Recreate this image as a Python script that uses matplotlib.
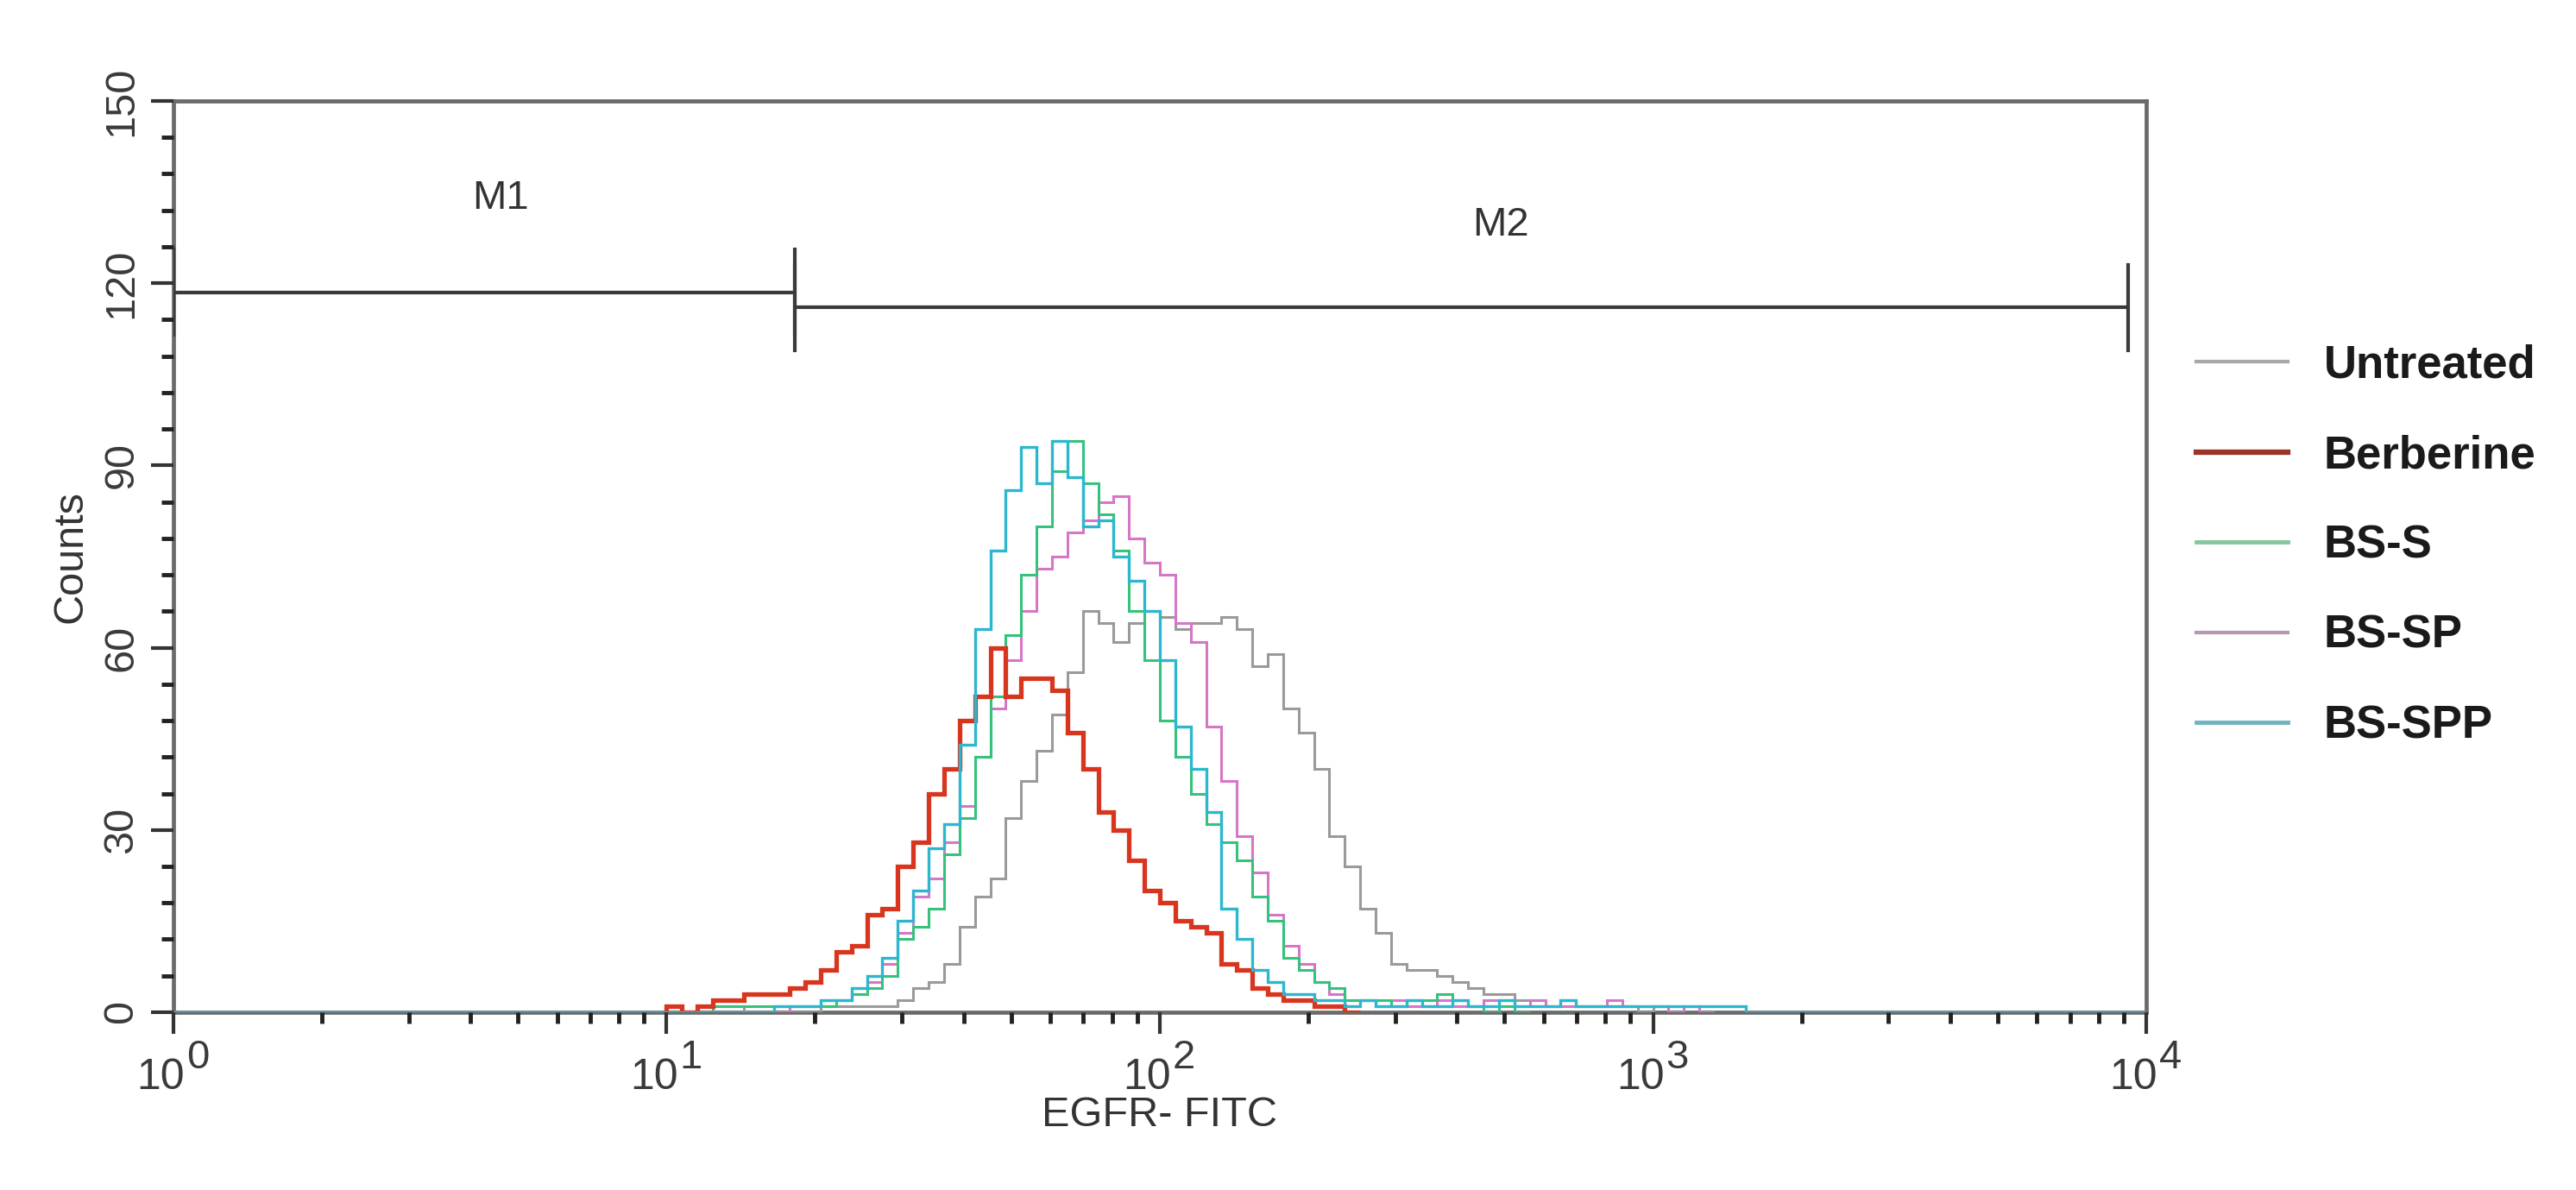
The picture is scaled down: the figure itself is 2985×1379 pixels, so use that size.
import numpy as np
import matplotlib
matplotlib.use("Agg")
import matplotlib.pyplot as plt
from matplotlib.transforms import ScaledTranslation
from matplotlib.ticker import FixedLocator, NullFormatter, MultipleLocator, LogLocator
from matplotlib.lines import Line2D

plt.rcParams['font.family'] = ['Liberation Sans', 'DejaVu Sans']

# ---------------- data ----------------
CHANNELS_PER_DECADE = 32          # histogram channels per log decade
N_CHANNELS = 128                  # 4 decades (10^0 .. 10^4)
FIRST_CHANNEL = 32                # first listed channel (10^1)

series_names = ["Untreated", "Berberine", "BS-S", "BS-SP", "BS-SPP"]

untreated = [1, 0, 0, 1, 1, 0, 0, 0, 0, 0,
             1, 1, 1, 1, 1, 2, 4, 5, 8, 14,
             19, 22, 32, 38, 43, 49, 56, 66, 64, 61,
             64, 66, 65, 63, 64, 64, 65, 63, 57, 59,
             50, 46, 40, 29, 24, 17, 13, 8, 7, 7,
             6, 5, 4, 3, 3, 2, 2, 1, 2, 1,
             1, 1, 1, 0, 1, 0]

berberine = [1, 0, 1, 2, 2, 3, 3, 3, 4, 5,
             7, 10, 11, 16, 17, 24, 28, 36, 40, 48,
             52, 60, 52, 55, 55, 53, 46, 40, 33, 30,
             25, 20, 18, 15, 14, 13, 8, 7, 4, 3,
             2, 2, 1, 1, 0]

bs_s = [0, 0, 0, 1, 1, 1, 1, 1, 1, 1,
        1, 2, 3, 4, 6, 12, 14, 17, 26, 32,
        42, 52, 62, 72, 80, 89, 94, 87, 82, 76,
        66, 58, 48, 42, 36, 31, 28, 25, 19, 15,
        9, 7, 5, 4, 2, 2, 2, 1, 2, 2,
        3, 2, 1, 0, 1, 0]

bs_sp = [0, 0, 0, 0, 0, 0, 0, 0, 1, 1,
         1, 2, 3, 5, 8, 13, 19, 22, 28, 34,
         42, 50, 58, 66, 73, 75, 79, 81, 84, 85,
         78, 74, 72, 64, 61, 47, 38, 29, 23, 16,
         11, 8, 5, 3, 2, 2, 1, 2, 1, 1,
         2, 1, 1, 2, 1, 1, 2, 1, 1, 1,
         1, 2, 1, 1, 1, 0, 1, 0]

bs_spp = [0, 0, 0, 0, 0, 0, 0, 1, 1, 1,
          2, 2, 4, 6, 9, 15, 20, 27, 31, 44,
          63, 76, 86, 93, 87, 94, 88, 80, 81, 75,
          71, 66, 58, 47, 40, 33, 17, 12, 7, 5,
          3, 3, 2, 2, 1, 2, 1, 1, 2, 1,
          1, 2, 1, 1, 2, 1, 1, 1, 2, 1,
          1, 1, 1, 1, 1, 1, 1, 1, 1, 1,
          0]

series_values = [untreated, berberine, bs_s, bs_sp, bs_spp]

y_tick_values = [0, 30, 60, 90, 120, 150]
x_decades = [0, 1, 2, 3, 4]

marker_names = ["M1", "M2"]
marker_lo = [1.0, 18.2]
marker_hi = [18.2, 9190.0]
marker_level = [118.5, 116.0]
marker_label_x = [4.6, 490.0]
marker_label_y = [134.0, 129.5]

x_label = "EGFR- FITC"
y_label = "Counts"

# ---------------- styles ----------------
colors = ["#9a9a9a", "#d8351f", "#34c27d", "#d676c6", "#2db7cf"]
widths = [2.2, 3.8, 2.2, 2.2, 2.4]
zorders = [2, 5, 4, 3, 6]
full_range = [False, False, False, False, True]   # only the last one draws the full baseline
legend_colors = ["#a8a8a8", "#9a3328", "#86c69a", "#b897b6", "#6db4bf"]
legend_widths = [3.0, 4.5, 3.5, 3.0, 3.5]

# ---------------- figure ----------------
fig = plt.figure(figsize=(29.85, 13.79), dpi=100)
ax = fig.add_axes([0.0673, 0.1494, 0.7659, 0.7658])
ax.set_xscale('log')

edges = 10 ** (np.arange(N_CHANNELS + 1) / CHANNELS_PER_DECADE)
for name, vals, c, lw, z, full_flag in zip(series_names, series_values, colors, widths,
                                           zorders, full_range):
    if full_flag:
        full = np.zeros(N_CHANNELS)
        full[FIRST_CHANNEL:FIRST_CHANNEL + len(vals)] = vals
        ax.stairs(full, edges, baseline=0, color=c, lw=lw, zorder=z)
    else:
        e = edges[FIRST_CHANNEL:FIRST_CHANNEL + len(vals) + 1]
        ax.stairs(np.asarray(vals, float), e, baseline=0, color=c, lw=lw, zorder=z)

# markers
mk_color = "#3a3a3a"
for name, lo, hi, lev, lx, ly in zip(marker_names, marker_lo, marker_hi, marker_level,
                                     marker_label_x, marker_label_y):
    ax.plot([lo, hi], [lev, lev], color=mk_color, lw=3.0, zorder=7, solid_capstyle='butt')
    ax.plot([lo, lo], [lev - 7, lev + 7], color=mk_color, lw=3.0, zorder=7)
    ax.plot([hi, hi], [lev - 7, lev + 7], color=mk_color, lw=3.0, zorder=7)
    ax.text(lx, ly, name, ha='center', va='center', fontsize=34, color='#333333')

ax.set_xlim(1, 10000)
ax.set_ylim(0, 150)

spine_color = "#6a6a6a"
for s in ax.spines.values():
    s.set_color(spine_color)
    s.set_linewidth(3.4)
    s.set_zorder(1)

# y ticks
ax.yaxis.set_major_locator(FixedLocator(y_tick_values))
ax.yaxis.set_minor_locator(MultipleLocator(6))
ax.set_yticklabels([str(v) for v in y_tick_values], rotation=90, va='center',
                   fontsize=35, color='#3a3a3a')
ax.tick_params(axis='y', which='major', direction='out', length=19, width=3,
               color='#333333', pad=8, left=True, right=False)
ax.tick_params(axis='y', which='minor', direction='out', length=10, width=3.5,
               color='#222222', left=True, right=False)

# x ticks
ax.xaxis.set_major_locator(FixedLocator([10.0 ** d for d in x_decades]))
ax.xaxis.set_minor_locator(LogLocator(base=10, subs=np.arange(2, 10), numticks=50))
ax.xaxis.set_major_formatter(NullFormatter())
ax.xaxis.set_minor_formatter(NullFormatter())
ax.tick_params(axis='x', which='major', direction='out', length=18, width=3,
               color='#333333', bottom=True, top=False)
ax.tick_params(axis='x', which='minor', direction='out', length=9, width=3.5,
               color='#222222', bottom=True, top=False)

xt = ax.get_xaxis_transform()
for d in x_decades:
    ax.text(10.0 ** d, 0, "10", ha='right', va='baseline', fontsize=36, color='#3a3a3a',
            transform=xt + ScaledTranslation(0.13, -0.89, fig.dpi_scale_trans),
            clip_on=False)
    ax.text(10.0 ** d, 0, str(d), ha='left', va='baseline', fontsize=34, color='#3a3a3a',
            transform=xt + ScaledTranslation(0.15, -0.65, fig.dpi_scale_trans),
            clip_on=False)

ax.text(0.5, -0.1136, x_label, transform=ax.transAxes, ha='center', va='center',
        fontsize=35, color='#333333')
ax.text(-0.052, 0.5, y_label, transform=ax.transAxes, ha='center', va='center',
        rotation=90, fontsize=35, color='#333333')

handles = [Line2D([0], [0], color=c, lw=w) for c, w in zip(legend_colors, legend_widths)]
leg = ax.legend(handles, series_names, loc='upper left', bbox_to_anchor=(1.0254, 0.733),
                frameon=False, borderpad=0, borderaxespad=0, handlelength=2.0,
                handletextpad=0.8, labelspacing=1.03,
                prop={'family': 'Liberation Sans', 'weight': 'bold', 'size': 38})
for t in leg.get_texts():
    t.set_color('#1a1a1a')

fig.savefig("out.png", dpi=100, facecolor='white')
